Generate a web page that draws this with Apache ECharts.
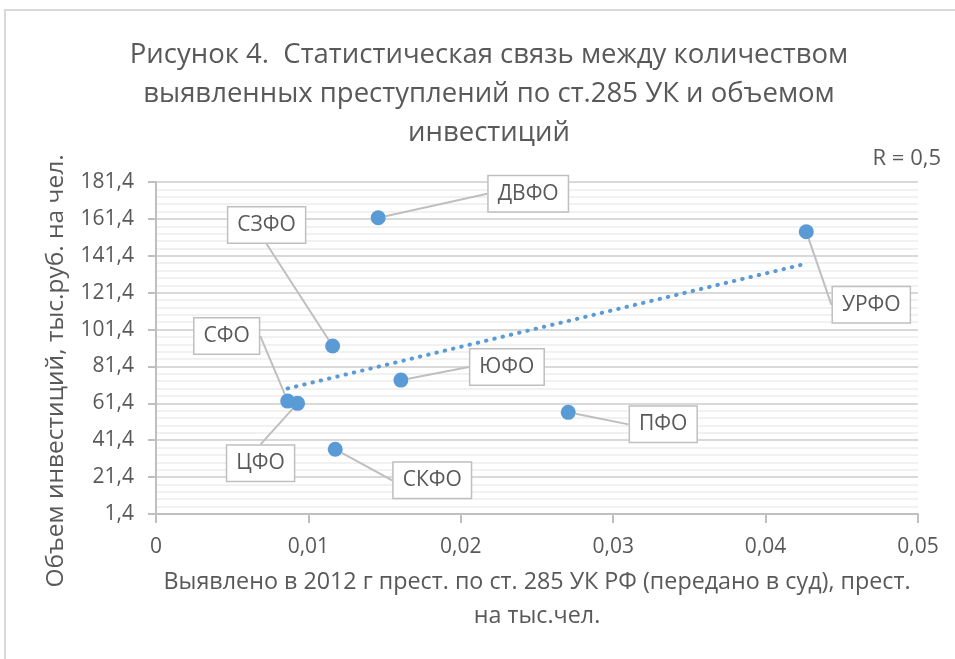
<!doctype html>
<html>
<head>
<meta charset="utf-8">
<title>Рисунок 4</title>
<script src="https://cdn.jsdelivr.net/npm/echarts@6/dist/echarts.min.js"></script>
<style>
  html, body { margin: 0; padding: 0; background: #fff; }
  #main { width: 955px; height: 659px; }
</style>
</head>
<body>
<div id="main"></div>
<script>
// регионы и значения
var regions = ['ДВФО', 'СЗФО', 'УРФО', 'СФО', 'ЦФО', 'ЮФО', 'ПФО', 'СКФО'];
var crimes = [0.01458, 0.01159, 0.04267, 0.00864, 0.00929, 0.01607, 0.02705, 0.01176];
var invest = [162.0, 92.5, 154.4, 62.6, 61.4, 74.0, 56.5, 36.5];
var yTicks = [1.4, 21.4, 41.4, 61.4, 81.4, 101.4, 121.4, 141.4, 161.4, 181.4];

// смещения выносок относительно точек (px)
var labelOffsets = [[150, -24], [-66, -121], [65, 73], [-61, -65], [-37, 60], [106, -13], [95, 12], [97, 31]];

var font = '"Open Sans", sans-serif';
var textColor = '#595959';

var points = regions.map(function (r, i) { return { name: r, value: [crimes[i], invest[i]] }; });

// линейный тренд по МНК
var n = crimes.length, mx = 0, my = 0;
for (var i = 0; i < n; i++) { mx += crimes[i]; my += invest[i]; }
mx /= n; my /= n;
var sxy = 0, sxx = 0;
for (var i = 0; i < n; i++) { sxy += (crimes[i] - mx) * (invest[i] - my); sxx += (crimes[i] - mx) * (crimes[i] - mx); }
var slope = sxy / sxx, icpt = my - slope * mx;
var xMin = Math.min.apply(null, crimes), xMax = Math.max.apply(null, crimes);
var trend = [[xMin, icpt + slope * xMin], [xMax, icpt + slope * xMax]];

var myChart = echarts.init(document.getElementById('main'));

var option = {
    animation: false,
    textStyle: { fontFamily: font },
    graphic: [{
        type: 'rect', silent: true,
        shape: { x: 5, y: 10, width: 1000, height: 700 },
        style: { fill: 'none', stroke: '#d9d9d9', lineWidth: 2 }
    }],
    title: [{
        text: 'Рисунок 4.  Статистическая связь между количеством\nвыявленных преступлений по ст.285 УК и объемом\nинвестиций',
        left: 484, top: 31, textAlign: 'center',
        textStyle: { fontFamily: font, fontWeight: 'normal', fontSize: 27.5, lineHeight: 39, color: textColor }
    }, {
        text: 'R = 0,5',
        right: 9, top: 143,
        textStyle: { fontFamily: font, fontWeight: 'normal', fontSize: 22, color: textColor }
    }],
    grid: { left: 156, right: 37, top: 182, bottom: 145 },
    xAxis: {
        type: 'value', min: 0, max: 0.05, interval: 0.01,
        name: 'Выявлено в 2012 г прест. по ст. 285 УК РФ (передано в суд), прест.\nна тыс.чел.',
        nameLocation: 'middle', nameGap: 51,
        nameTextStyle: { fontFamily: font, fontSize: 23.3, lineHeight: 34, color: textColor },
        axisLine: { onZero: false, lineStyle: { color: '#bfbfbf', width: 2 } },
        axisTick: { show: true, inside: false, length: 9, lineStyle: { color: '#bfbfbf', width: 2 } },
        axisLabel: { margin: 23, fontSize: 21, color: textColor,
            formatter: function (v) { return v === 0 ? '0' : v.toFixed(2).replace('.', ','); } },
        splitLine: { show: false }
    },
    yAxis: {
        type: 'value', min: yTicks[0], max: yTicks[yTicks.length - 1], interval: 20,
        name: 'Объем инвестиций, тыс.руб. на чел.',
        nameLocation: 'middle', nameGap: 87,
        nameTextStyle: { fontFamily: font, fontSize: 24.5, color: textColor, padding: [0, 46, 0, 0] },
        axisLine: { show: true, lineStyle: { color: '#bfbfbf', width: 2 } },
        axisTick: { show: true, inside: false, length: 8, lineStyle: { color: '#bfbfbf', width: 2 } },
        axisLabel: { margin: 22, fontSize: 21, color: textColor,
            formatter: function (v) { return v.toFixed(1).replace('.', ','); } },
        splitLine: { show: true, lineStyle: { color: '#d9d9d9', width: 2 } },
        minorTick: { show: false, splitNumber: 5 },
        minorSplitLine: { show: true, lineStyle: { color: '#ededed', width: 1.5 } }
    },
    series: [{
        type: 'line',
        data: trend,
        symbol: 'none',
        silent: true,
        z: 1,
        lineStyle: { color: '#5b9bd5', width: 4, type: [0.5, 8], cap: 'round' }
    }, {
        type: 'scatter',
        data: points,
        symbolSize: 15,
        z: 3,
        itemStyle: { color: '#5b9bd5', opacity: 1 },
        label: {
            show: true,
            formatter: '{b}',
            fontFamily: font, fontSize: 21, color: textColor,
            backgroundColor: '#fff', borderColor: '#bfbfbf', borderWidth: 1.5,
            padding: [8, 9, 6, 9]
        },
        labelLine: { show: true, lineStyle: { color: '#bfbfbf', width: 2 } },
        labelLayout: function (p) {
            var o = labelOffsets[p.dataIndex];
            return {
                x: p.rect.x + p.rect.width / 2 + o[0],
                y: p.rect.y + p.rect.height / 2 + o[1],
                align: 'center', verticalAlign: 'middle', hideOverlap: false
            };
        }
    }]
};

myChart.setOption(option);
</script>
</body>
</html>
